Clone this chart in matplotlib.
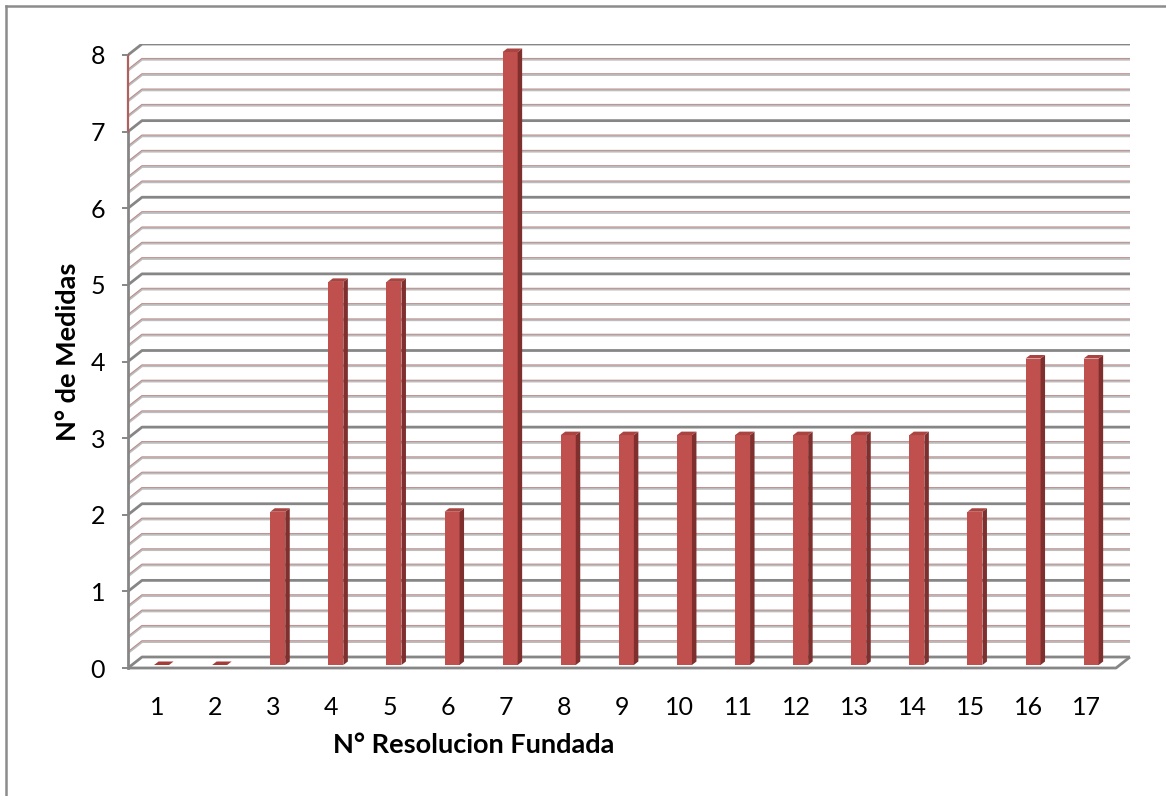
import numpy as np
import matplotlib
matplotlib.use("Agg")
import matplotlib.pyplot as plt
from matplotlib.patches import Polygon, Rectangle
from matplotlib.lines import Line2D

# data
resoluciones = list(range(1, 18))
medidas = [0, 0, 2, 5, 5, 2, 8, 3, 3, 3, 3, 3, 3, 3, 2, 4, 4]
y_ticks = [0, 1, 2, 3, 4, 5, 6, 7, 8]

plt.rcParams['font.family'] = ['Lato', 'DejaVu Sans']

W, H = 1166, 796
fig = plt.figure(figsize=(W / 100, H / 100), dpi=100)

# plot area in pixels (front axis x=128, back wall right x=1130, floor y=668, wall top y=44)
px_left, px_right, px_bottom, px_top = 128, 1130, 668, 44
ax = fig.add_axes([px_left / W, 1 - px_bottom / H,
                   (px_right - px_left) / W, (px_bottom - px_top) / H])

px_per_y = (668 - 55) / 8.0
px_per_x = 58.1
wall_dx = 14 / px_per_x
wall_dy = 11 / px_per_y
xmin = 0.5
xmax = xmin + (px_right - px_left) / px_per_x
ymax = 8 + wall_dy
ax.set_xlim(xmin, xmax)
ax.set_ylim(0, ymax)
for s in ax.spines.values():
    s.set_visible(False)

grid_major = '#868686'
grid_minor = '#bcbcbc'
red_line = '#c0504d'

# gridlines on the side wall and back wall
for k in range(41):
    v = k * 0.2
    xs = [xmin, xmin + wall_dx, xmax]
    ys = [v, v + wall_dy, v + wall_dy]
    if k % 5 == 0:
        ax.plot(xs, ys, color=grid_major, lw=2.0, zorder=1, solid_capstyle='butt')
    else:
        ax.plot(xs, ys, color=grid_minor, lw=1.9, zorder=1, solid_capstyle='butt')
        off = 1.0 / px_per_y
        ax.plot(xs, [y + off for y in ys], color=red_line, lw=0.6, alpha=0.5,
                zorder=1.1, solid_capstyle='butt')

# floor outline
ax.plot([xmin, xmax - wall_dx, xmax], [0, 0, wall_dy], color=grid_major, lw=2.0,
        zorder=1, clip_on=False, solid_capstyle='butt')
# vertical axis line (reddish between 7 and 8 like the original)
ax.plot([xmin, xmin], [0, 7], color=grid_major, lw=2.0, zorder=1.2, clip_on=False)
ax.plot([xmin, xmin], [7, 8], color='#b0605e', lw=1.6, zorder=1.2, clip_on=False)

# 3D-look bars
bar_w = 15 / px_per_x
shift_x = 4.5 / px_per_x
shift_y = 3.0 / px_per_y
dd_x = 4.5 / px_per_x
dd_y = 3.5 / px_per_y
front_c = '#c0504d'
side_c = '#7f2f2d'
top_c = '#a94441'
for cat, val in zip(resoluciones, medidas):
    x0 = cat + shift_x - bar_w / 2
    x1 = x0 + bar_w
    y0 = shift_y
    y1 = val + shift_y
    if val > 0:
        ax.add_patch(Rectangle((x0, y0), bar_w, val, facecolor=front_c,
                               edgecolor='none', zorder=3))
        ax.add_patch(Polygon([(x1, y0), (x1 + dd_x, y0 + dd_y), (x1 + dd_x, y1 + dd_y), (x1, y1)],
                             closed=True, facecolor=side_c, edgecolor='none', zorder=3))
    ax.add_patch(Polygon([(x0, y1), (x1, y1), (x1 + dd_x, y1 + dd_y), (x0 + dd_x, y1 + dd_y)],
                         closed=True, facecolor=top_c if val > 0 else '#a43c3a',
                         edgecolor='none', zorder=3))

# ticks
ax.set_yticks(y_ticks)
ax.set_yticklabels([str(t) for t in y_ticks])
ax.tick_params(axis='y', direction='out', length=4.5, width=1.4, color=grid_major,
               pad=12, labelsize=18, labelcolor='black')
ax.set_xticks(resoluciones)
ax.set_xticklabels([str(c) for c in resoluciones])
ax.tick_params(axis='x', length=0, pad=20, labelsize=18, labelcolor='black')

fig.text(474 / W, 1 - 745 / H, 'N° Resolucion Fundada', ha='center', va='center',
         fontsize=19.5, fontweight='bold')
fig.text(68 / W, 1 - 352 / H, 'N° de Medidas', ha='center', va='center',
         rotation=90, fontsize=19.5, fontweight='bold')

# chart border (left and top edges visible)
fig.add_artist(Line2D([5.5 / W, 5.5 / W], [0, 1 - 6 / H], color='#8c8c8c', lw=1.8))
fig.add_artist(Line2D([5.5 / W, 1], [1 - 6 / H, 1 - 6 / H], color='#8c8c8c', lw=1.8))

fig.savefig('out.png', dpi=100, facecolor='white')
